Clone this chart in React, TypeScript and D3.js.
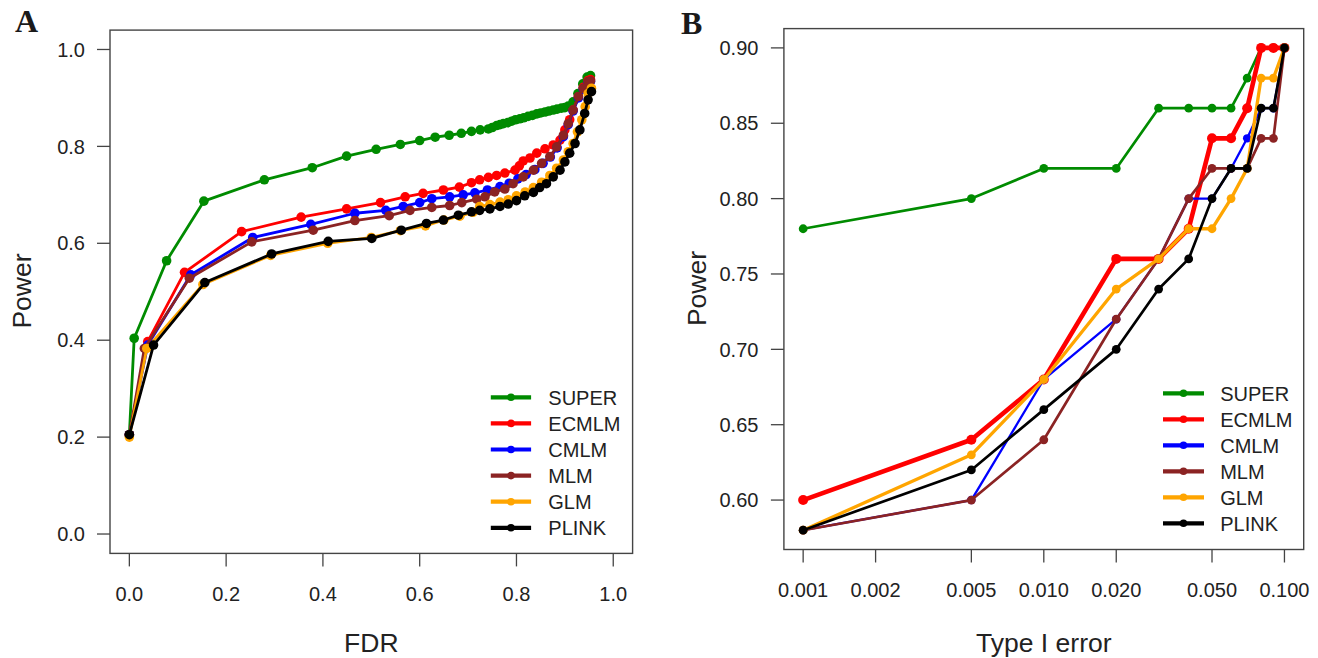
import React from "react";
import * as d3 from "d3";

// ---------- DATA ----------
const methods = ["SUPER", "ECMLM", "CMLM", "MLM", "GLM", "PLINK"];

// Panel A: [FDR, Power]
const superA: [number, number][] = [
  [0, 0.205], [0.010, 0.404], [0.077, 0.564], [0.154, 0.687], [0.279, 0.731], [0.378, 0.756],
  [0.449, 0.780], [0.510, 0.794], [0.560, 0.804], [0.600, 0.812], [0.632, 0.819], [0.661, 0.823],
  [0.686, 0.827], [0.707, 0.831], [0.725, 0.834], [0.742, 0.836], [0.750, 0.839], [0.759, 0.843],
  [0.766, 0.845], [0.773, 0.847], [0.782, 0.849], [0.790, 0.852], [0.798, 0.855], [0.807, 0.857],
  [0.815, 0.859], [0.824, 0.862], [0.833, 0.864], [0.842, 0.867], [0.850, 0.869], [0.859, 0.871],
  [0.867, 0.873], [0.876, 0.875], [0.884, 0.877], [0.893, 0.879], [0.900, 0.880], [0.907, 0.883],
  [0.917, 0.892], [0.927, 0.909], [0.937, 0.929], [0.946, 0.943], [0.953, 0.946],
];
const ecmlmA: [number, number][] = [
  [0, 0.205], [0.038, 0.397], [0.114, 0.540], [0.232, 0.624], [0.355, 0.654], [0.449, 0.671],
  [0.519, 0.684], [0.570, 0.696], [0.607, 0.703], [0.649, 0.710], [0.682, 0.716], [0.707, 0.725],
  [0.724, 0.731], [0.742, 0.736], [0.759, 0.740], [0.776, 0.745], [0.797, 0.751], [0.806, 0.760],
  [0.814, 0.770], [0.828, 0.776], [0.842, 0.786], [0.859, 0.795], [0.876, 0.803], [0.890, 0.813],
  [0.900, 0.834], [0.910, 0.855], [0.917, 0.875], [0.928, 0.902], [0.938, 0.922], [0.948, 0.936],
  [0.953, 0.938],
];
const cmlmA: [number, number][] = [
  [0, 0.205], [0.038, 0.390], [0.127, 0.535], [0.255, 0.612], [0.375, 0.639], [0.466, 0.662],
  [0.530, 0.668], [0.566, 0.676], [0.600, 0.684], [0.625, 0.692], [0.662, 0.696], [0.690, 0.700],
  [0.714, 0.704], [0.740, 0.710], [0.766, 0.717], [0.785, 0.724], [0.803, 0.733], [0.820, 0.742],
  [0.838, 0.752], [0.855, 0.765], [0.870, 0.778], [0.884, 0.797], [0.897, 0.820], [0.907, 0.845],
  [0.917, 0.873], [0.928, 0.900], [0.938, 0.918], [0.948, 0.932], [0.953, 0.934],
];
const mlmA: [number, number][] = [
  [0, 0.205], [0.031, 0.383], [0.124, 0.528], [0.253, 0.603], [0.380, 0.627], [0.466, 0.647],
  [0.537, 0.657], [0.580, 0.668], [0.625, 0.674], [0.662, 0.678], [0.687, 0.684], [0.718, 0.691],
  [0.735, 0.696], [0.755, 0.706], [0.776, 0.712], [0.793, 0.723], [0.814, 0.737], [0.835, 0.751],
  [0.852, 0.765], [0.869, 0.779], [0.883, 0.799], [0.897, 0.823], [0.907, 0.847], [0.917, 0.875],
  [0.928, 0.903], [0.938, 0.920], [0.948, 0.934], [0.953, 0.935],
];
const glmA: [number, number][] = [
  [0, 0.200], [0.036, 0.383], [0.152, 0.515], [0.292, 0.575], [0.410, 0.600], [0.500, 0.612],
  [0.560, 0.626], [0.612, 0.636], [0.650, 0.648], [0.683, 0.656], [0.710, 0.664], [0.724, 0.676],
  [0.745, 0.680], [0.766, 0.685], [0.783, 0.690], [0.800, 0.698], [0.818, 0.706], [0.835, 0.715],
  [0.852, 0.726], [0.869, 0.740], [0.883, 0.755], [0.897, 0.772], [0.907, 0.789], [0.917, 0.806],
  [0.926, 0.830], [0.935, 0.855], [0.942, 0.882], [0.948, 0.909], [0.955, 0.920],
];
const plinkA: [number, number][] = [
  [0, 0.205], [0.050, 0.390], [0.156, 0.519], [0.294, 0.578], [0.411, 0.604], [0.501, 0.610],
  [0.562, 0.627], [0.614, 0.641], [0.649, 0.648], [0.680, 0.658], [0.707, 0.665], [0.724, 0.668],
  [0.745, 0.671], [0.766, 0.676], [0.783, 0.681], [0.800, 0.688], [0.817, 0.698], [0.835, 0.705],
  [0.848, 0.715], [0.862, 0.723], [0.876, 0.737], [0.890, 0.751], [0.900, 0.768], [0.910, 0.786],
  [0.921, 0.806], [0.931, 0.834], [0.941, 0.868], [0.948, 0.896], [0.955, 0.913],
];

// Panel B: Type I error (x) and Power per method
const typeIError = [0.001, 0.005, 0.01, 0.02, 0.03, 0.04, 0.05, 0.06, 0.07, 0.08, 0.09, 0.1];
const superB = [0.78, 0.80, 0.82, 0.82, 0.86, 0.86, 0.86, 0.86, 0.88, 0.90, 0.90, 0.90];
const ecmlmB = [0.60, 0.64, 0.68, 0.76, 0.76, 0.78, 0.84, 0.84, 0.86, 0.90, 0.90, 0.90];
const cmlmB = [0.58, 0.60, 0.68, 0.72, 0.76, 0.80, 0.80, 0.82, 0.84, 0.86, 0.86, 0.90];
const mlmB = [0.58, 0.60, 0.64, 0.72, 0.76, 0.80, 0.82, 0.82, 0.82, 0.84, 0.84, 0.90];
const glmB = [0.58, 0.63, 0.68, 0.74, 0.76, 0.78, 0.78, 0.80, 0.82, 0.88, 0.88, 0.90];
const plinkB = [0.58, 0.62, 0.66, 0.70, 0.74, 0.76, 0.80, 0.82, 0.82, 0.86, 0.86, 0.90];

const ticksA = [0, 0.2, 0.4, 0.6, 0.8, 1.0];
const tickLabelsA = ["0.0", "0.2", "0.4", "0.6", "0.8", "1.0"];
const ticksBx = [0.001, 0.002, 0.005, 0.01, 0.02, 0.05, 0.1];
const tickLabelsBx = ["0.001", "0.002", "0.005", "0.010", "0.020", "0.050", "0.100"];
const ticksBy = [0.6, 0.65, 0.7, 0.75, 0.8, 0.85, 0.9];
const tickLabelsBy = ["0.60", "0.65", "0.70", "0.75", "0.80", "0.85", "0.90"];

// ---------- STYLE ----------
const colors = ["#008B00", "#FF0000", "#0000FF", "#8B2323", "#FFA500", "#000000"];
const widthsB = [2.7, 4.6, 2.3, 2.7, 3.3, 2.7];
const radiiB = [4.4, 5, 4.2, 4.4, 4.4, 4.4];
const FONT = "'Liberation Sans', Arial, sans-serif";

const dataA = [superA, ecmlmA, cmlmA, mlmA, glmA, plinkA];
const dataB = [superB, ecmlmB, cmlmB, mlmB, glmB, plinkB];

export default function App() {
  // Panel A scales
  const xA = d3.scaleLinear().domain([-0.04, 1.04]).range([110, 632.6]);
  const yA = d3.scaleLinear().domain([-0.04, 1.04]).range([553.4, 30.1]);
  // Panel B scales
  const xB = d3.scaleLog().domain([Math.pow(10, -3.08), Math.pow(10, -0.92)]).range([783.9, 1303.7]);
  const yB = d3.scaleLinear().domain([0.5672, 0.9128]).range([549.5, 28.6]);

  const lineA = d3.line<[number, number]>().x((d) => xA(d[0])).y((d) => yA(d[1]));
  const lineB = d3.line<number>().x((_, i) => xB(typeIError[i])).y((d) => yB(d));

  const [ax0, ax1] = xA.range();
  const [ay0, ay1] = yA.range();
  const [bx0, bx1] = xB.range();
  const [by0, by1] = yB.range();

  const tick = 13;

  return (
    <svg
      width={1318}
      height={658}
      style={{ position: "absolute", left: 0, top: 0, background: "#fff" }}
      fontFamily={FONT}
    >
      <rect x={0} y={0} width={1318} height={658} fill="#fff" />

      {/* ===== Panel A ===== */}
      <text x={15} y={32} fontFamily="'Liberation Serif', 'Times New Roman', serif" fontWeight="bold" fontSize={32} fill="#1a1a1a">A</text>
      <rect x={ax0} y={ay1} width={ax1 - ax0} height={ay0 - ay1} fill="none" stroke="#444" strokeWidth={1.4} />
      {ticksA.map((t, i) => (
        <g key={"axa" + i}>
          <line x1={xA(t)} x2={xA(t)} y1={ay0} y2={ay0 + tick} stroke="#444" strokeWidth={1.3} />
          <text x={xA(t)} y={ay0 + 47.5} fontSize={20} textAnchor="middle" fill="#222">{tickLabelsA[i]}</text>
          <line x1={ax0} x2={ax0 - tick} y1={yA(t)} y2={yA(t)} stroke="#444" strokeWidth={1.3} />
          <text x={ax0 - 25} y={yA(t)} dy="0.36em" fontSize={20} textAnchor="end" fill="#222">{tickLabelsA[i]}</text>
        </g>
      ))}
      <text x={(ax0 + ax1) / 2} y={652} fontSize={26.5} textAnchor="middle" fill="#222">FDR</text>
      <text transform={`translate(31,291) rotate(-90)`} fontSize={26.5} textAnchor="middle" fill="#222">Power</text>

      {dataA.map((s, k) => (
        <g key={"sa" + k}>
          <path d={lineA(s) || ""} fill="none" stroke={colors[k]} strokeWidth={2.8} strokeLinejoin="round" />
          {s.map((d, j) => (
            <circle key={j} cx={xA(d[0])} cy={yA(d[1])} r={4.8} fill={colors[k]} />
          ))}
        </g>
      ))}

      {methods.map((m, k) => {
        const y = 397.3 + k * 26.1;
        return (
          <g key={"la" + k}>
            <line x1={490.8} x2={531.1} y1={y} y2={y} stroke={colors[k]} strokeWidth={4.2} />
            <circle cx={511} cy={y} r={3.8} fill={colors[k]} />
            <text x={548.3} y={y} dy="0.36em" fontSize={20} fill="#222">{m}</text>
          </g>
        );
      })}

      {/* ===== Panel B ===== */}
      <text x={681} y={33.5} fontFamily="'Liberation Serif', 'Times New Roman', serif" fontWeight="bold" fontSize={32} fill="#1a1a1a">B</text>
      <rect x={bx0} y={by1} width={bx1 - bx0} height={by0 - by1} fill="none" stroke="#444" strokeWidth={1.4} />
      {ticksBx.map((t, i) => (
        <g key={"axbx" + i}>
          <line x1={xB(t)} x2={xB(t)} y1={by0} y2={by0 + tick} stroke="#444" strokeWidth={1.3} />
          <text x={xB(t)} y={by0 + 47} fontSize={20} textAnchor="middle" fill="#222">{tickLabelsBx[i]}</text>
        </g>
      ))}
      {ticksBy.map((t, i) => (
        <g key={"axby" + i}>
          <line x1={bx0} x2={bx0 - tick} y1={yB(t)} y2={yB(t)} stroke="#444" strokeWidth={1.3} />
          <text x={bx0 - 25.5} y={yB(t)} dy="0.36em" fontSize={20} textAnchor="end" fill="#222">{tickLabelsBy[i]}</text>
        </g>
      ))}
      <text x={(bx0 + bx1) / 2} y={652} fontSize={26.5} textAnchor="middle" fill="#222">Type I error</text>
      <text transform={`translate(706,288.5) rotate(-90)`} fontSize={26.5} textAnchor="middle" fill="#222">Power</text>

      {dataB.map((s, k) => (
        <g key={"sb" + k}>
          <path d={lineB(s) || ""} fill="none" stroke={colors[k]} strokeWidth={widthsB[k]} strokeLinejoin="round" />
          {s.map((v, j) => (
            <circle key={j} cx={xB(typeIError[j])} cy={yB(v)} r={radiiB[k]} fill={colors[k]} />
          ))}
        </g>
      ))}

      {methods.map((m, k) => {
        const y = 393.3 + k * 26;
        return (
          <g key={"lb" + k}>
            <line x1={1163} x2={1204} y1={y} y2={y} stroke={colors[k]} strokeWidth={4.2} />
            <circle cx={1183.5} cy={y} r={3.8} fill={colors[k]} />
            <text x={1220.2} y={y} dy="0.36em" fontSize={20} fill="#222">{m}</text>
          </g>
        );
      })}
    </svg>
  );
}
